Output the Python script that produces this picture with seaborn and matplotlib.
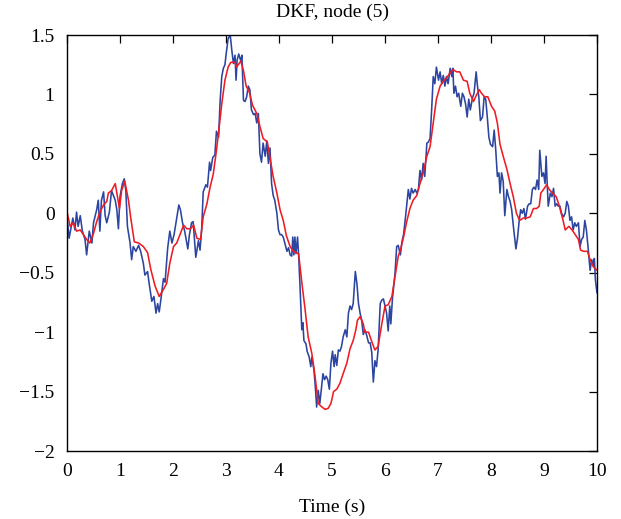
import matplotlib
matplotlib.use("Agg")
import matplotlib.pyplot as plt
import seaborn as sns
import pandas as pd
from matplotlib.ticker import FuncFormatter

# measured signal (blue)
blue_t = [0.00, 0.04, 0.11, 0.15, 0.18, 0.21, 0.25, 0.29, 0.34, 0.37, 0.42, 0.47, 0.50, 0.56, 0.59, 0.62, 0.65, 0.69, 0.72, 0.75,
          0.80, 0.84, 0.91, 0.94, 0.97, 1.00, 1.045, 1.08, 1.11, 1.14, 1.19, 1.22, 1.25, 1.30, 1.35, 1.39, 1.44, 1.47, 1.52, 1.55,
          1.60, 1.64, 1.68, 1.71, 1.74, 1.77, 1.82, 1.85, 1.90, 1.94, 1.98, 2.02, 2.07, 2.11, 2.14, 2.18, 2.22, 2.28, 2.31, 2.35,
          2.38, 2.43, 2.48, 2.51, 2.54, 2.57, 2.62, 2.65, 2.69, 2.71, 2.75, 2.79, 2.82, 2.86, 2.89, 2.92, 2.95, 2.98, 3.00, 3.02,
          3.04, 3.08, 3.11, 3.14, 3.17, 3.19, 3.21, 3.24, 3.28, 3.30, 3.33, 3.36, 3.39, 3.42, 3.45, 3.48, 3.52, 3.55, 3.58, 3.61,
          3.64, 3.67, 3.70, 3.74, 3.77, 3.80, 3.83, 3.86, 3.89, 3.92, 3.96, 3.99, 4.02, 4.05, 4.08, 4.11, 4.15, 4.18, 4.21, 4.24,
          4.26, 4.28, 4.30, 4.32, 4.35, 4.37, 4.40, 4.43, 4.45, 4.47, 4.51, 4.53, 4.57, 4.60, 4.62, 4.66, 4.69, 4.71, 4.74, 4.77,
          4.81, 4.83, 4.86, 4.89, 4.92, 4.95, 4.98, 5.01, 5.04, 5.06, 5.09, 5.12, 5.15, 5.18, 5.21, 5.25, 5.28, 5.31, 5.34, 5.37,
          5.40, 5.44, 5.47, 5.50, 5.53, 5.56, 5.59, 5.62, 5.65, 5.69, 5.72, 5.75, 5.78, 5.81, 5.84, 5.87, 5.91, 5.94, 5.97, 6.00,
          6.03, 6.06, 6.09, 6.11, 6.14, 6.19, 6.22, 6.25, 6.29, 6.32, 6.35, 6.38, 6.41, 6.44, 6.47, 6.50, 6.53, 6.57, 6.60, 6.63,
          6.66, 6.69, 6.72, 6.75, 6.79, 6.82, 6.85, 6.88, 6.91, 6.94, 6.97, 7.01, 7.04, 7.07, 7.10, 7.13, 7.16, 7.19, 7.23, 7.26,
          7.28, 7.30, 7.33, 7.36, 7.39, 7.43, 7.46, 7.49, 7.52, 7.55, 7.58, 7.61, 7.65, 7.68, 7.72, 7.74, 7.77, 7.80, 7.84, 7.87,
          7.90, 7.93, 7.96, 7.99, 8.03, 8.06, 8.09, 8.12, 8.15, 8.17, 8.20, 8.23, 8.26, 8.30, 8.33, 8.36, 8.39, 8.42, 8.45, 8.47,
          8.50, 8.53, 8.56, 8.59, 8.62, 8.65, 8.69, 8.72, 8.75, 8.78, 8.81, 8.84, 8.87, 8.90, 8.92, 8.96, 8.99, 9.02, 9.04, 9.06,
          9.08, 9.12, 9.15, 9.18, 9.21, 9.24, 9.27, 9.30, 9.33, 9.37, 9.40, 9.43, 9.46, 9.49, 9.52, 9.55, 9.58, 9.61, 9.65, 9.68,
          9.71, 9.74, 9.77, 9.80, 9.83, 9.87, 9.90, 9.93, 9.95, 9.97, 10.0]
blue_v = [-0.03, -0.21, -0.04, -0.14, 0.01, -0.11, -0.02, -0.15, -0.22, -0.35, -0.15, -0.25, -0.08, 0.03, 0.11, -0.15, 0.11, 0.18, -0.02, -0.08,
          0.01, 0.19, 0.11, 0.03, -0.13, 0.14, 0.25, 0.29, 0.19, -0.11, -0.25, -0.39, -0.28, -0.32, -0.27, -0.32, -0.42, -0.52, -0.49, -0.59,
          -0.74, -0.70, -0.84, -0.76, -0.83, -0.73, -0.55, -0.58, -0.29, -0.15, -0.25, -0.18, -0.04, 0.07, 0.03, -0.08, -0.15, -0.30, -0.18, -0.08,
          -0.07, -0.37, -0.23, -0.31, -0.14, 0.18, 0.24, 0.22, 0.43, 0.36, 0.47, 0.49, 0.69, 0.64, 0.95, 1.15, 1.22, 1.25, 1.33, 1.40,
          1.47, 1.50, 1.37, 1.26, 1.33, 1.12, 1.29, 1.34, 1.28, 1.33, 0.95, 0.94, 0.98, 1.07, 1.04, 0.87, 0.83, 0.84, 0.76, 0.84,
          0.50, 0.43, 0.59, 0.48, 0.61, 0.42, 0.55, 0.25, 0.15, 0.11, 0.00, -0.14, -0.18, -0.18, -0.20, -0.25, -0.32, -0.29, -0.35, -0.36,
          -0.20, -0.35, -0.20, -0.34, -0.20, -0.35, -0.65, -0.98, -0.92, -1.07, -1.10, -1.16, -1.21, -1.29, -1.21, -1.32, -1.49, -1.63, -1.49, -1.60,
          -1.43, -1.35, -1.40, -1.37, -1.40, -1.48, -1.26, -1.16, -1.29, -1.19, -1.28, -1.15, -1.16, -1.12, -1.04, -0.98, -1.04, -0.84, -0.78, -0.81,
          -0.76, -0.49, -0.59, -0.76, -0.84, -0.90, -1.02, -0.98, -1.02, -1.09, -1.09, -1.17, -1.42, -1.24, -1.29, -1.15, -0.76, -0.73, -0.72, -0.78,
          -0.84, -0.99, -0.78, -0.93, -0.72, -0.50, -0.28, -0.27, -0.35, -0.24, -0.18, -0.06, 0.07, 0.20, 0.12, 0.21, 0.17, 0.20, 0.17, 0.20,
          0.36, 0.28, 0.42, 0.31, 0.59, 0.60, 0.63, 0.87, 1.15, 1.09, 1.23, 1.12, 1.19, 1.09, 1.16, 1.07, 1.15, 1.09, 1.22, 1.15,
          1.22, 1.01, 1.07, 0.98, 1.01, 0.90, 1.01, 0.98, 0.92, 0.81, 0.96, 0.87, 0.97, 1.01, 1.19, 1.09, 0.98, 0.78, 0.81, 0.98,
          0.96, 0.81, 0.64, 0.58, 0.56, 0.70, 0.53, 0.31, 0.34, 0.17, 0.34, 0.27, -0.02, 0.20, 0.14, 0.10, 0.03, -0.10, -0.22, -0.30,
          -0.21, -0.07, 0.03, 0.00, 0.04, -0.05, 0.06, 0.08, 0.08, 0.20, 0.22, 0.20, 0.28, 0.20, 0.53, 0.31, 0.34, 0.25, 0.48, 0.25,
          0.06, 0.17, 0.14, 0.21, 0.06, 0.08, 0.06, 0.06, 0.00, -0.03, 0.00, 0.10, 0.06, -0.06, -0.03, -0.14, -0.08, -0.11, -0.08, -0.28,
          -0.22, -0.20, -0.06, -0.14, -0.28, -0.48, -0.39, -0.44, -0.38, -0.56, -0.67]

# DKF estimate (red)
red_t = [0.00, 0.06, 0.12, 0.18, 0.25, 0.31, 0.37, 0.43, 0.50, 0.56, 0.62, 0.69, 0.75, 0.78, 0.84, 0.91, 0.94, 0.99, 1.03, 1.09,
         1.16, 1.20, 1.27, 1.35, 1.44, 1.52, 1.58, 1.66, 1.74, 1.82, 1.88, 1.94, 2.01, 2.07, 2.14, 2.20, 2.26, 2.33, 2.39, 2.45,
         2.52, 2.57, 2.64, 2.70, 2.76, 2.82, 2.87, 2.92, 2.98, 3.04, 3.09, 3.17, 3.20, 3.28, 3.33, 3.38, 3.44, 3.50, 3.58, 3.64,
         3.70, 3.78, 3.83, 3.89, 3.96, 4.02, 4.08, 4.14, 4.21, 4.27, 4.37, 4.43, 4.49, 4.55, 4.62, 4.68, 4.74, 4.81, 4.87, 4.93,
         4.98, 5.03, 5.09, 5.15, 5.21, 5.28, 5.34, 5.40, 5.45, 5.48, 5.53, 5.59, 5.62, 5.69, 5.75, 5.81, 5.87, 5.94, 6.00, 6.06,
         6.13, 6.19, 6.25, 6.29, 6.35, 6.41, 6.47, 6.53, 6.60, 6.66, 6.72, 6.79, 6.85, 6.91, 6.97, 7.04, 7.10, 7.16, 7.23, 7.28,
         7.35, 7.41, 7.48, 7.55, 7.60, 7.67, 7.72, 7.78, 7.82, 7.88, 7.94, 8.01, 8.07, 8.12, 8.17, 8.23, 8.30, 8.36, 8.42, 8.48,
         8.54, 8.61, 8.67, 8.74, 8.80, 8.86, 8.91, 8.94, 8.99, 9.05, 9.10, 9.16, 9.23, 9.29, 9.36, 9.40, 9.47, 9.53, 9.59, 9.65,
         9.69, 9.75, 9.82, 9.87, 9.93, 10.0]
red_v = [0.01, -0.11, -0.08, -0.15, -0.14, -0.18, -0.22, -0.25, -0.17, -0.07, 0.01, 0.07, 0.10, 0.17, 0.19, 0.25, 0.17, 0.04, 0.19, 0.27,
         0.11, -0.03, -0.24, -0.25, -0.28, -0.33, -0.47, -0.61, -0.70, -0.64, -0.59, -0.42, -0.28, -0.25, -0.17, -0.10, -0.13, -0.13, -0.10, -0.21,
         -0.22, -0.03, 0.08, 0.22, 0.33, 0.53, 0.72, 0.92, 1.12, 1.23, 1.27, 1.27, 1.23, 1.28, 1.20, 1.07, 1.02, 0.91, 0.84, 0.73,
         0.63, 0.60, 0.47, 0.31, 0.17, 0.03, -0.06, -0.19, -0.28, -0.32, -0.34, -0.58, -0.80, -1.04, -1.18, -1.37, -1.60, -1.63, -1.65, -1.64,
         -1.60, -1.50, -1.48, -1.43, -1.35, -1.26, -1.14, -1.07, -0.98, -0.90, -0.87, -0.93, -1.00, -1.00, -1.08, -1.15, -1.12, -0.93, -0.78, -0.77,
         -0.70, -0.53, -0.36, -0.31, -0.20, -0.07, 0.04, 0.11, 0.15, 0.25, 0.34, 0.48, 0.56, 0.76, 0.96, 1.07, 1.11, 1.14, 1.18, 1.21,
         1.19, 1.19, 1.12, 1.11, 1.01, 0.94, 0.99, 1.04, 1.01, 0.98, 0.98, 0.90, 0.86, 0.76, 0.58, 0.48, 0.37, 0.25, 0.14, 0.00,
         -0.06, -0.04, -0.04, -0.03, 0.04, 0.04, 0.06, 0.17, 0.20, 0.24, 0.20, 0.17, 0.14, 0.06, -0.06, -0.14, -0.11, -0.14, -0.18, -0.22,
         -0.31, -0.32, -0.32, -0.39, -0.45, -0.48]

title = "DKF, node (5)"
xlabel = "Time (s)"
xticks = [0, 1, 2, 3, 4, 5, 6, 7, 8, 9, 10]
yticks = [-2, -1.5, -1, -0.5, 0, 0.5, 1, 1.5]

sns.set_theme(style="white")
plt.rcParams['font.family'] = ['Liberation Serif', 'DejaVu Serif']
plt.rcParams['axes.unicode_minus'] = True

fig = plt.figure(figsize=(6.21, 5.19), dpi=100)
ax = fig.add_axes([67/621, 1 - 451/519, (597 - 67)/621, (451 - 35)/519])

blue_df = pd.DataFrame({"t": blue_t, "v": blue_v})
red_df = pd.DataFrame({"t": red_t, "v": red_v})
sns.lineplot(data=blue_df, x="t", y="v", color="#2b45a0", linewidth=1.15, ax=ax, estimator=None)
sns.lineplot(data=red_df, x="t", y="v", color="#ee1c24", linewidth=1.15, ax=ax, estimator=None)

ax.set_xlim(0, 10)
ax.set_ylim(-2, 1.5)
ax.set_xticks(xticks)
ax.set_yticks(yticks)
fmt = FuncFormatter(lambda v, p: ("%g" % v).replace("-", "\u2212"))
ax.yaxis.set_major_formatter(fmt)
ax.xaxis.set_major_formatter(fmt)
ax.tick_params(direction="in", length=6, width=0.9, top=True, right=True,
               labelsize=14, colors="black")
ax.tick_params(axis="x", pad=9)
ax.tick_params(axis="y", pad=9)
for s in ax.spines.values():
    s.set_visible(True)
    s.set_color("black")
    s.set_linewidth(1.0)
ax.set_xlabel(xlabel, fontsize=14, color="black", labelpad=13)
ax.set_ylabel("")
ax.set_title(title, fontsize=14, color="black", pad=13)
ax.grid(False)
ax.set_facecolor("white")
fig.patch.set_facecolor("white")

fig.savefig("out.png", dpi=100)
